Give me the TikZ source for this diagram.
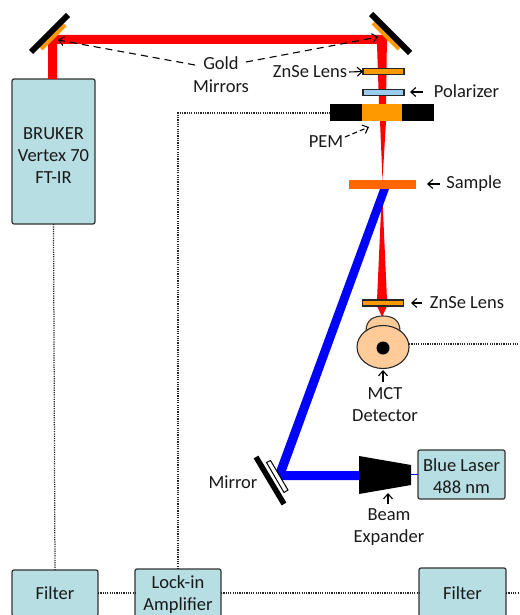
\documentclass[tikz,border=0pt]{standalone}
\usepackage{fontspec}
\setmainfont{Carlito}
\usetikzlibrary{arrows.meta,shapes.geometric}
\definecolor{boxfill}{HTML}{B7DEE3}
\definecolor{gold}{HTML}{FF9900}
\definecolor{samp}{HTML}{FF6600}
\definecolor{det}{HTML}{FFCC99}
\definecolor{pol}{HTML}{99CCEE}
\tikzset{
  every node/.style={font=\fontsize{18.5}{22}\selectfont,text=black!90,inner sep=0pt,outer sep=0pt},
  lab/.style={align=center},
  panel/.style={draw=black!80,line width=1.2pt,fill=boxfill,rounded corners=2pt,align=center,minimum width=#1},
  sig/.style={line width=1.25pt,dash pattern=on 1.2pt off 1.1pt,black!85},
  lead/.style={-{Straight Barb[length=5pt,width=9pt]},line width=1.1pt,black},
  dlead/.style={lead,dash pattern=on 7pt off 5pt},
  lens/.style={draw=black!85,line width=1.1pt},
  redbeam/.style={fill=red,draw=none},
  bluebeam/.style={fill=blue,draw=none},
}
\begin{document}
\begin{tikzpicture}[x=1pt,y=-1pt]
\useasboundingbox (0,0) rectangle (519,615);
\clip (0,0) rectangle (519,615);
\coordinate (rowY) at (0,593);
\coordinate (pemY) at (0,113);
% boxes
\node[panel=83pt,minimum height=145pt] (bruker) at (53.5,151.5) {\rule{0pt}{20pt}BRUKER\\Vertex 70\\FT-IR};
\node[panel=86pt,minimum height=46pt] (filterL) at (55,593) {Filter};
\node[panel=86pt,minimum height=52pt] (lockin) at (178,595) {Lock-in\\Amplifier};
\node[panel=87pt,minimum height=50pt] (filterR) at (462.5,593) {Filter};
\node[panel=87pt,minimum height=49pt] (laser) at (461.5,474.5) {\rule{0pt}{16pt}Blue Laser\\488 nm};
% red beams
\fill[redbeam] (48,79) -- (48,35) -- (387,35) -- (386,104) -- (379,104) -- (377,44) -- (57,44) -- (57,79) -- cycle;
\fill[redbeam] (380,121) -- (386,121) -- (382.5,180) -- cycle;
\fill[redbeam] (382,189) -- (377,300) -- (387,300) -- cycle;
\fill[redbeam] (377,306) -- (387,306) -- (382,317) -- cycle;
% mirrors
\draw[gold,line width=4pt] (41,49) -- (65,25);
\draw[black,line width=6pt] (31,52) -- (68,15);
\draw[gold,line width=4pt] (373,23) -- (399,49);
\draw[black,line width=6pt] (371,14) -- (410,53);
% optics
\node[lens,fill=gold,minimum width=41pt,minimum height=6pt] (lens1) at (383.5,71.5) {};
\node[lens,fill=pol,minimum width=41pt,minimum height=6pt] (polar) at (383.5,92.5) {};
\node[fill=black,minimum width=104pt,minimum height=17pt] (pem) at (382,112.5) {};
\node[fill=gold,minimum width=40pt,minimum height=16pt] (pemc) at (382,112.5) {};
\node[fill=samp,minimum width=67pt,minimum height=9pt] (sample) at (382.5,184.5) {};
\node[lens,fill=gold,minimum width=41pt,minimum height=6pt] (lens2) at (383,303) {};
% blue beam
\fill[bluebeam] (380,189) -- (389,189) -- (286,471) -- (360,471) -- (360,480) -- (277,480) -- (275,474) -- cycle;
\fill[bluebeam] (411,473.5) rectangle (418,475);
% lower mirror
\draw[black,line width=5.5pt] (256,457) -- (284,504);
\draw[black,line width=1pt,fill=white] (266.5,462.5) -- (270.5,460.5) -- (288,490) -- (284,492.5) -- cycle;
% expander
\fill[black] (359,456) -- (411,465) -- (411,485) -- (359,494) -- cycle;
% detector
\draw[draw=black!80,line width=1.1pt,fill=det] (366,331) .. controls (366,319) and (375,316) .. (383,316) .. controls (391,316) and (400,319) .. (400,331) -- cycle;
\node[draw=black!85,line width=1.1pt,fill=det,ellipse,minimum width=52pt,minimum height=43pt] (detector) at (383,347) {};
\node[circle,fill=black,minimum size=13pt] (dot) at (383,348) {};
\coordinate (detR) at (409,344);
\coordinate (edgeR) at (519,344);
\coordinate (edgeR2) at (519,593);
% signal lines
\draw[sig] (bruker.south) -- (filterL.north);
\draw[sig] (filterL.east |- rowY) -- (lockin.west |- rowY);
\draw[sig] (lockin.east |- rowY) -- (filterR.west |- rowY);
\draw[sig] (filterR.east |- rowY) -- (edgeR2);
\draw[sig] (lockin.north) |- (pem.west |- pemY);
\draw[sig] (detR) -- (edgeR);
% labels
\node[lab] (gold) at (221,63) {Gold};
\node[lab] (mirrors) at (221,86) {Mirrors};
\node[lab] (zn1) at (310,72) {ZnSe Lens};
\node[lab] (pollab) at (466.5,91) {Polarizer};
\node[lab] (pemlab) at (326,142) {PEM};
\node[lab] (samplab) at (474,184) {Sample};
\node[lab] (zn2) at (467,303) {ZnSe Lens};
\node[lab] (mct) at (385,405) {MCT\\Detector};
\node[lab] (mirlab) at (233,482) {Mirror};
\node[lab] (bexp) at (389,527) {Beam\\Expander};
% leaders
\draw[dlead] (195,65) -- (58,40);
\draw[dlead] (246,62) -- (378,37);
\draw[lead] (zn1.east) ++(2,0) -- (lens1.west);
\draw[lead] (423,92) -- (410,92);
\draw[dlead,dash pattern=on 5pt off 3pt] (345,137) -- (369,127);
\draw[lead] (440,184) -- (427,184);
\draw[lead] (422,303) -- (411,303);
\draw[lead] (383,382) -- (383,370);
\draw[lead] (388,504) -- (388,493);
\end{tikzpicture}
\end{document}
